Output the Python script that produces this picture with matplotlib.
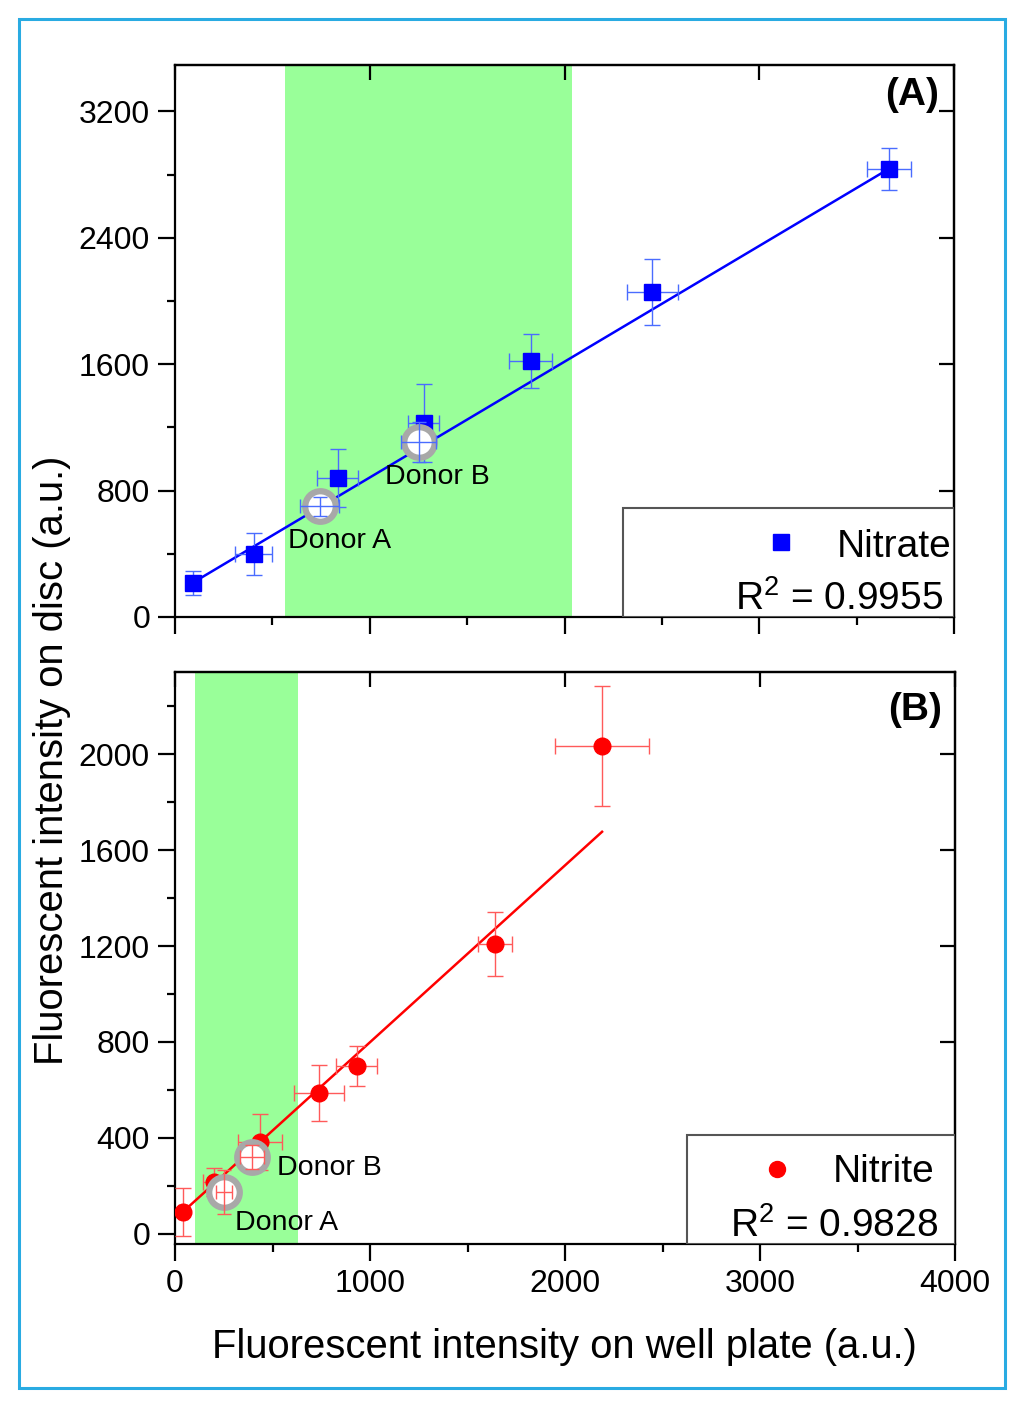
import numpy as np
import matplotlib
matplotlib.use("Agg")
import matplotlib.pyplot as plt
from matplotlib.patches import Rectangle

plt.rcParams["font.family"] = ["Liberation Sans", "DejaVu Sans"]
plt.rcParams["mathtext.fontset"] = "custom"
plt.rcParams["mathtext.rm"] = "Liberation Sans"
plt.rcParams["mathtext.it"] = "Liberation Sans:italic"

# (A) nitrate calibration
nitrate_x = [92, 405, 836, 1277, 1826, 2451, 3667]
nitrate_y = [215, 399, 880, 1228, 1620, 2057, 2835]
nitrate_xerr = [30, 95, 105, 80, 112, 130, 112]
nitrate_yerr = [75, 135, 185, 245, 170, 210, 135]
nitrate_fit = (0.733, 150)  # slope, intercept
nitrate_fit_range = (92, 3667)
nitrate_donor_x = [744, 1251]
nitrate_donor_y = [702, 1108]
nitrate_donor_xerr = [100, 90]
nitrate_donor_yerr = [60, 125]
nitrate_band = (565, 2040)

# (B) nitrite calibration
nitrite_x = [41, 200, 436, 738, 933, 1641, 2190]
nitrite_y = [92, 217, 383, 587, 700, 1208, 2033]
nitrite_xerr = [20, 55, 113, 130, 105, 87, 240]
nitrite_yerr = [100, 58, 117, 115, 85, 135, 250]
nitrite_fit = (0.737, 62)
nitrite_fit_range = (41, 2190)
nitrite_donor_x = [251, 395]
nitrite_donor_y = [175, 321]
nitrite_donor_xerr = [40, 60]
nitrite_donor_yerr = [92, 50]
nitrite_band = (103, 631)

donor_labels = ["Donor A", "Donor B"]
nitrate_label_pos = [(580, 481), (1077, 886)]
nitrite_label_pos = [(308, 46), (523, 275)]

GREEN = "#99FF99"


def style_axes(ax, ylim, yticks, yminor):
    ax.set_xlim(0, 4000)
    ax.set_ylim(*ylim)
    ax.set_xticks(range(0, 4001, 1000))
    ax.set_xticks(range(500, 4000, 1000), minor=True)
    ax.set_yticks(yticks)
    ax.set_yticks(yminor, minor=True)
    for s in ax.spines.values():
        s.set_linewidth(1.6)
    ax.tick_params(which="major", direction="out", length=12, width=1.6,
                   labelsize=23, pad=6, top=False, right=False)
    ax.tick_params(which="minor", direction="out", length=6, width=1.6,
                   top=False, right=False)
    # inward ticks on the top and right, no labels
    top = ax.secondary_xaxis("top")
    top.set_xticks(range(0, 4001, 1000))
    top.tick_params(direction="in", length=11, width=1.6, labeltop=False)
    top.spines["top"].set_linewidth(1.6)
    right = ax.secondary_yaxis("right")
    right.set_yticks(yticks)
    right.tick_params(direction="in", length=11, width=1.6, labelright=False)
    right.spines["right"].set_linewidth(1.6)


def draw_panel(ax, x, y, xerr, yerr, fit, fit_range, dx, dy, dxerr, dyerr,
               band, color, ecolor, marker, ms, label_pos):
    ax.axvspan(band[0], band[1], color=GREEN, lw=0, zorder=0)
    fx = np.array(fit_range)
    ax.plot(fx, fit[0] * fx + fit[1], color=color, lw=1.8, zorder=2)
    ax.errorbar(x, y, xerr=xerr, yerr=yerr, fmt="none", ecolor=ecolor,
                elinewidth=1, capsize=5.5, capthick=1, zorder=3)
    ax.plot(x, y, ls="none", marker=marker, ms=ms, color=color, zorder=4)
    ax.plot(dx, dy, ls="none", marker="o", ms=22, mfc="white",
            mec="#a8a8a8", mew=4.5, zorder=5)
    ax.errorbar(dx, dy, xerr=dxerr, yerr=dyerr, fmt="none", ecolor=ecolor,
                elinewidth=1, capsize=5, capthick=1, zorder=6)
    for lab, (lx, ly) in zip(donor_labels, label_pos):
        ax.text(lx, ly, lab, fontsize=20.5, ha="left", va="center", zorder=7)


fig = plt.figure(figsize=(10.24, 14.10), dpi=100)
ax_a = fig.add_axes([175 / 1024, 1 - 617 / 1410, 779 / 1024, 552 / 1410])
ax_b = fig.add_axes([175 / 1024, 1 - 1244 / 1410, 780 / 1024, 572 / 1410])

draw_panel(ax_a, nitrate_x, nitrate_y, nitrate_xerr, nitrate_yerr,
           nitrate_fit, nitrate_fit_range, nitrate_donor_x, nitrate_donor_y,
           nitrate_donor_xerr, nitrate_donor_yerr, nitrate_band,
           "#0000FF", "#4a6cff", "s", 11.5, nitrate_label_pos)
style_axes(ax_a, (0, 3494), range(0, 3201, 800), range(400, 3400, 800))
ax_a.tick_params(axis="x", labelbottom=False)

draw_panel(ax_b, nitrite_x, nitrite_y, nitrite_xerr, nitrite_yerr,
           nitrite_fit, nitrite_fit_range, nitrite_donor_x, nitrite_donor_y,
           nitrite_donor_xerr, nitrite_donor_yerr, nitrite_band,
           "#FF0000", "#ff5a5a", "o", 12, nitrite_label_pos)
style_axes(ax_b, (-42, 2342), range(0, 2001, 400), range(200, 2300, 400))

# legend boxes
for ax, x0, h, mk, col, name, r2, mx, my, tx, ty, rx, ry in [
    (ax_a, 0.5746, 0.1975, "s", "#0000FF", "Nitrate", "0.9955",
     0.7776, 0.136, 0.8496, 0.1087, 0.986, 0.0127),
    (ax_b, 0.656, 0.1906, "o", "#FF0000", "Nitrite", "0.9828",
     0.772, 0.131, 0.8436, 0.108, 0.978, 0.012),
]:
    ax.add_patch(Rectangle((x0, 0), 1 - x0, h, transform=ax.transAxes,
                           facecolor="white", edgecolor="#555555", lw=1.5,
                           zorder=8))
    ax.plot([mx], [my], marker=mk, ms=12 if mk == "s" else 11.5, color=col,
            transform=ax.transAxes, zorder=9, clip_on=False)
    ax.text(tx, ty, name, transform=ax.transAxes, fontsize=28,
            va="baseline", ha="left", zorder=9)
    ax.text(rx, ry, r"R$^2$ = " + r2, transform=ax.transAxes, fontsize=28,
            va="baseline", ha="right", zorder=9)

ax_a.text(0.981, 0.946, "(A)", transform=ax_a.transAxes, fontsize=28,
          fontweight="bold", ha="right", va="center")
ax_b.text(0.983, 0.934, "(B)", transform=ax_b.transAxes, fontsize=28,
          fontweight="bold", ha="right", va="center")

fig.text(52 / 1024, 1 - 760 / 1410, "Fluorescent intensity on disc (a.u.)",
         rotation=90, fontsize=28.8, ha="center", va="center")
fig.text(564 / 1024, 1 - 1347 / 1410, "Fluorescent intensity on well plate (a.u.)",
         fontsize=28.8, ha="center", va="center")

# outer frame
fig.patches.append(Rectangle((19 / 1024, 1 - 1388 / 1410), 986 / 1024,
                             1369 / 1410, transform=fig.transFigure,
                             fill=False, edgecolor="#29ABE2", lw=2.2))

fig.savefig("out.png", dpi=100)
